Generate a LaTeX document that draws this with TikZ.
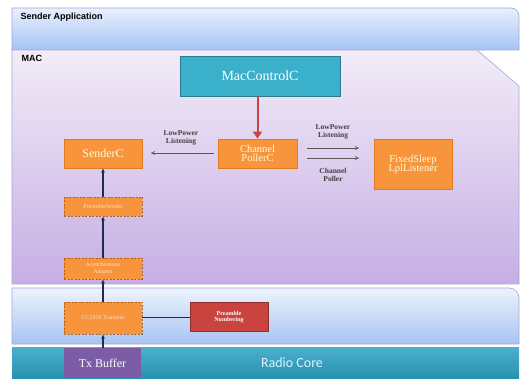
\documentclass[tikz,border=0pt]{standalone}
\usepackage{fontspec}
\setmainfont{Liberation Serif}
\newfontfamily\hdfont{Liberation Sans}
\newfontfamily\rcfont{Carlito}
\usetikzlibrary{arrows.meta}
\definecolor{orangebox}{HTML}{F7943C}
\definecolor{orangeedge}{HTML}{E07B22}
\definecolor{tealbox}{HTML}{3BB0CA}
\definecolor{purplebox}{HTML}{7D5CA6}
\definecolor{redbox}{HTML}{C9443F}
\definecolor{navy}{HTML}{1F2A55}
\definecolor{radiocore}{HTML}{2BA2C4}
\tikzset{
  compbox/.style={draw=orangeedge, fill=orangebox, line width=0.8pt, text=white!85!yellow,
    align=center, inner sep=1pt, font=\fontsize{10.5}{11}\selectfont},
  dashbox/.style={draw=orangeedge!80!black, fill=orangebox, dashed, dash pattern=on 2pt off 1.5pt,
    line width=0.8pt, text=white!75!orange, align=center, inner sep=1pt,
    minimum width=78pt, font=\fontsize{6}{6.5}\selectfont},
  uparrow/.style={-{Latex[length=4pt,width=4pt]}, draw=navy, line width=1.2pt},
  greyarrow/.style={-{To[length=4pt,width=4pt]}, draw=gray!70!black, line width=0.6pt},
  lbl/.style={font=\bfseries\fontsize{7.5}{8.5}\selectfont, text=black!75, align=center},
  band/.style={draw=gray!60!blue!50, line width=0.6pt}
}
\begin{document}
\begin{tikzpicture}[x=1pt,y=-1pt]
\useasboundingbox (0,0) rectangle (522,379);
\fill[white] (0,0) rectangle (522,379);
% Sender Application band
\shade[top color={rgb,255:red,232;green,240;blue,252}, bottom color={rgb,255:red,165;green,195;blue,244}]
  (12,50) -- (12,8) [rounded corners=8pt] -- (519,8) [sharp corners] -- (519,50) -- cycle;
\draw[band] (12,50) -- (12,8) [rounded corners=8pt] -- (519,8) [sharp corners] -- (519,50) -- cycle;
\node[anchor=west, font=\hdfont\bfseries\fontsize{9}{10}\selectfont] (sa) at (17,17) {Sender Application};
% MAC band
\shade[top color={rgb,255:red,242;green,236;blue,247}, bottom color={rgb,255:red,198;green,174;blue,228}]
  (12,284) -- (12,50) -- (477,50) -- (519,86) -- (519,284) -- cycle;
\draw[band] (12,284) -- (12,50) -- (477,50) -- (519,86) -- (519,284) -- cycle;
\node[anchor=west, font=\hdfont\bfseries\fontsize{9}{10}\selectfont] (mac) at (18,58) {MAC};
% lower band
\shade[top color={rgb,255:red,236;green,243;blue,252}, bottom color={rgb,255:red,168;green,196;blue,243}]
  (12,344) -- (12,288) [rounded corners=10pt] -- (519,288) [sharp corners] -- (519,344) -- cycle;
\draw[band] (12,344) -- (12,288) [rounded corners=10pt] -- (519,288) [sharp corners] -- (519,344) -- cycle;
% Radio core bar
\shade[top color=radiocore!85!white, bottom color=radiocore!90!black] (12,347) rectangle (519,378);
\node[font=\rcfont\fontsize{14}{16}\selectfont, text=white!85!cyan] (rc) at (292,363) {Radio Core};
% Nodes
\node[draw=tealbox!70!black, fill=tealbox, line width=0.6pt, minimum width=160pt, minimum height=40pt,
  text=white, font=\fontsize{14}{16}\selectfont] (mcc) at (260,76) {MacControlC};
\node[compbox, minimum width=79pt, minimum height=29pt] (cp) at (257.5,153.5) {Channel\\[-2pt]PollerC};
\node[compbox, minimum width=78pt, minimum height=29pt, font=\fontsize{12}{13}\selectfont] (sc) at (103,153.5) {SenderC};
\node[compbox, minimum width=78pt, minimum height=50pt] (fs) at (413,164) {FixedSleep\\[-2pt]LplListener};
\node[dashbox, minimum height=19pt] (ps) at (103,206.5) {PreambleSender};
\node[dashbox, minimum height=21pt] (aa) at (103,268.5) {Asynchronous\\Adapter};
\node[dashbox, minimum height=32pt] (ct) at (103,318) {CC2420 Transmit};
\node[draw=redbox!70!black, fill=redbox, line width=0.6pt, minimum width=78pt, minimum height=29pt,
  text=white, align=center, font=\bfseries\fontsize{6}{6.5}\selectfont] (pn) at (229,317) {Preamble\\Numbering};
\node[fill=purplebox, minimum width=77pt, minimum height=30pt, text=white,
  font=\fontsize{12}{13}\selectfont] (tx) at (102.5,363) {Tx Buffer};
% Connectors
\draw[-{Triangle[length=7pt,width=9pt]}, draw=redbox, fill=redbox, line width=2pt] (mcc.south -| cp.north) -- (cp.north);
\coordinate (l1s) at (214,153);
\coordinate (l1e) at (151,153);
\draw[greyarrow] (l1s) -- (l1e);
\node[lbl] (t1) at (181,138) {LowPower\\Listening};
\coordinate (r1s) at (307,148);
\coordinate (r1e) at (359,148);
\coordinate (r2s) at (307,158);
\coordinate (r2e) at (359,158);
\draw[greyarrow] (r1s) -- (r1e);
\draw[greyarrow] (r2s) -- (r2e);
\node[lbl] (t2) at (333,132) {LowPower\\Listening};
\node[lbl] (t3) at (333,175) {Channel\\Poller};
\draw[uparrow] (ps.north -| sc.south) -- (sc.south);
\draw[uparrow] (aa.north) -- (ps.south);
\draw[uparrow] (ct.north) -- (aa.south);
\draw[uparrow] (tx.north -| ct.south) -- (ct.south);
\draw[draw=navy, line width=1pt] (ct.east) -- (ct.east -| pn.west);
\end{tikzpicture}
\end{document}
